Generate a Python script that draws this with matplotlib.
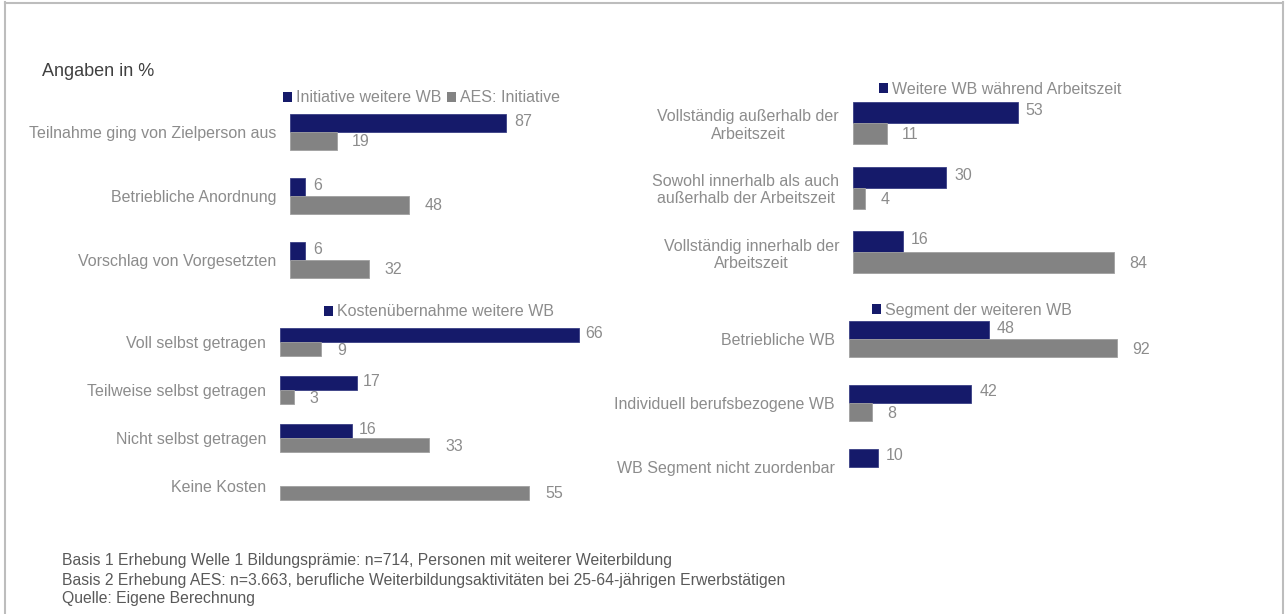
import numpy as np
import matplotlib
matplotlib.use("Agg")
import matplotlib.pyplot as plt
from matplotlib.patches import Patch
from matplotlib.lines import Line2D

# ---------------- data ----------------
cats1 = ["Teilnahme ging von Zielperson aus", "Betriebliche Anordnung", "Vorschlag von Vorgesetzten"]
p1_wb = [87, 6, 6]
p1_aes = [19, 48, 32]
p1_legend = ["Initiative weitere WB", "AES: Initiative"]

cats2 = ["Voll selbst getragen", "Teilweise selbst getragen", "Nicht selbst getragen", "Keine Kosten"]
p2_wb = [66, 17, 16, np.nan]
p2_aes = [9, 3, 33, 55]
p2_legend = ["Kostenübernahme weitere WB"]

cats3 = ["Vollständig außerhalb der\nArbeitszeit",
         "Sowohl innerhalb als auch\naußerhalb der Arbeitszeit",
         "Vollständig innerhalb der\nArbeitszeit"]
p3_wb = [53, 30, 16]
p3_aes = [11, 4, 84]
p3_legend = ["Weitere WB während Arbeitszeit"]

cats4 = ["Betriebliche WB", "Individuell berufsbezogene WB", "WB Segment nicht zuordenbar"]
p4_wb = [48, 42, 10]
p4_aes = [92, 8, np.nan]
p4_legend = ["Segment der weiteren WB"]

title = "Angaben in %"
footnotes = ["Basis 1 Erhebung Welle 1 Bildungsprämie: n=714, Personen mit weiterer Weiterbildung",
             "Basis 2 Erhebung AES: n=3.663, berufliche Weiterbildungsaktivitäten bei 25-64-jährigen Erwerbstätigen",
             "Quelle: Eigene Berechnung"]

# ---------------- style ----------------
W, H = 1288, 614
BLUE = "#151a6a"
GREY = "#838383"
TXT = "#8c8c8c"
FS = 11.5
plt.rcParams['font.family'] = ['Liberation Sans', 'DejaVu Sans']

fig = plt.figure(figsize=(W / 100, H / 100), dpi=100)
fig.patch.set_facecolor("white")


def fx(x):
    return x / W


def fy(y):
    return 1 - y / H


def make_panel(x0, pxu, xmax, yc0, spacing, n, bh_px, cats, wb, aes,
               leg_labels, leg_x, leg_y, off_b=8, off_g=15):
    top = yc0 - spacing / 2
    bot = yc0 + (n - 0.5) * spacing
    ax = fig.add_axes([fx(x0), fy(bot), xmax * pxu / W, (bot - top) / H])
    ax.set_xlim(0, xmax)
    ax.set_ylim(n - 0.5, -0.5)
    bh = bh_px / spacing
    y = np.arange(n)
    ax.barh(y - bh / 2, wb, height=bh, color=BLUE, edgecolor="#3a3f85", linewidth=0.6)
    ax.barh(y + bh / 2, aes, height=bh, color=GREY, edgecolor="#a0a0a0", linewidth=0.6)
    for i in range(n):
        if not np.isnan(wb[i]):
            ax.annotate(f"{wb[i]:g}", (wb[i], y[i] - bh / 2), xytext=(off_b, 2),
                        textcoords="offset pixels", va="center", ha="left",
                        fontsize=FS, color=TXT)
        if not np.isnan(aes[i]):
            ax.annotate(f"{aes[i]:g}", (aes[i], y[i] + bh / 2), xytext=(off_g, -1),
                        textcoords="offset pixels", va="center", ha="left",
                        fontsize=FS, color=TXT)
    ax.set_yticks(y)
    ax.set_yticklabels(cats, fontsize=FS, color=TXT, multialignment="center")
    ax.tick_params(axis="y", length=0, pad=10)
    ax.set_xticks([])
    for s in ax.spines.values():
        s.set_visible(False)
    ax.patch.set_alpha(0)
    cols = [BLUE, GREY]
    handles = [Patch(facecolor=cols[k], edgecolor="none") for k in range(len(leg_labels))]
    leg = fig.legend(handles, leg_labels, loc="center left",
                     bbox_to_anchor=(fx(leg_x), fy(leg_y)), ncol=len(leg_labels),
                     frameon=False, fontsize=FS, handlelength=0.55, handleheight=0.55,
                     handletextpad=0.25, columnspacing=0.35, borderpad=0, borderaxespad=0)
    for t in leg.get_texts():
        t.set_color(TXT)
    return ax


np1 = np.array(p1_wb, dtype=float); na1 = np.array(p1_aes, dtype=float)
np2 = np.array(p2_wb, dtype=float); na2 = np.array(p2_aes, dtype=float)
np3 = np.array(p3_wb, dtype=float); na3 = np.array(p3_aes, dtype=float)
np4 = np.array(p4_wb, dtype=float); na4 = np.array(p4_aes, dtype=float)

make_panel(290, 2.483, 100, 132, 64, 3, 18, cats1, np1, na1, p1_legend, 283, 98)
make_panel(280, 4.53, 70, 342, 48, 4, 14, cats2, np2, na2, p2_legend, 324, 312, off_b=6, off_g=16)
make_panel(853, 3.11, 100, 123, 64.5, 3, 21, cats3, np3, na3, p3_legend, 879, 89)
make_panel(849, 2.913, 100, 339, 64, 3, 18, cats4, np4, na4, p4_legend, 872, 310)

# title and footnotes
fig.text(fx(42), fy(72), title, fontsize=13, color="#404040", ha="left", va="center")
for k, line in enumerate(footnotes):
    fig.text(fx(62), fy(561 + 19 * k), line, fontsize=11.3, color="#595959",
             ha="left", va="center")

# frame
fc = "#bdbdbd"
fig.add_artist(Line2D([fx(5), fx(5)], [fy(2), fy(614)], color=fc, lw=1.5))
fig.add_artist(Line2D([fx(5), fx(1283)], [fy(2.5), fy(2.5)], color=fc, lw=1.5))
fig.add_artist(Line2D([fx(1283), fx(1283)], [fy(2), fy(614)], color=fc, lw=1.5))

fig.savefig("out.png", dpi=100, facecolor="white")
